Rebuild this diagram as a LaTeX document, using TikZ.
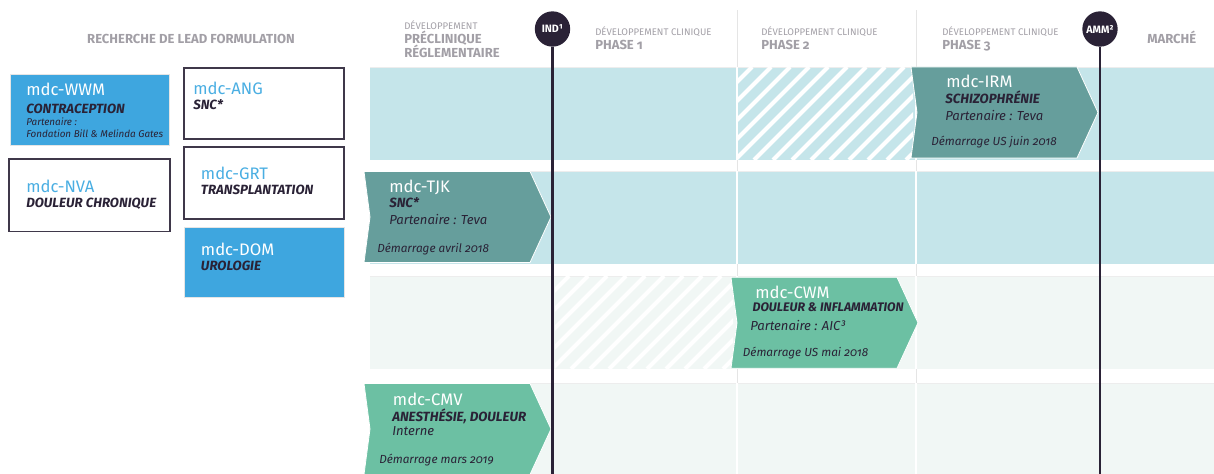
\documentclass[tikz,border=0pt]{standalone}
\usepackage{fontspec}
\setmainfont{Fira Sans}[Numbers=OldStyle]
\definecolor{bandblue}{HTML}{C5E5EA}
\definecolor{bandgreen}{HTML}{F1F7F5}
\definecolor{teal}{HTML}{669E9C}
\definecolor{mint}{HTML}{6CC0A3}
\definecolor{boxblue}{HTML}{3EA6DF}
\definecolor{codeblue}{HTML}{4AAEE2}
\definecolor{dark}{HTML}{2A2236}
\definecolor{headgrey}{HTML}{A29FA6}
\begin{document}
\begin{tikzpicture}[x=.75pt,y=-.75pt,
	code/.style={anchor=base west,inner sep=0pt,white,font=\fontsize{12.5}{12.5}\selectfont},
	cat/.style={anchor=base west,inner sep=0pt,dark,font=\fontsize{10}{10}\selectfont\bfseries\itshape},
	part/.style={anchor=base west,inner sep=0pt,dark,font=\fontsize{9.8}{9.8}\selectfont\itshape},
	start/.style={anchor=base west,inner sep=0pt,dark,font=\fontsize{8.8}{8.8}\selectfont\itshape},
	hsmall/.style={anchor=base west,inner sep=0pt,headgrey,font=\fontsize{7.2}{7.2}\selectfont},
	hbig/.style={anchor=base west,inner sep=0pt,headgrey,font=\fontsize{9.8}{9.8}\selectfont\bfseries},
	milestone/.style={circle,fill=dark,text=white,inner sep=0pt,minimum size=26.5pt,font=\fontsize{8}{8}\selectfont\bfseries}]
	\useasboundingbox (0,0) rectangle (1214,474);
	% bandes
	\foreach \yy/\cc in {67/bandblue,171/bandblue,276/bandgreen,383/bandgreen}
	{
		\fill[\cc] (370,\yy) rectangle ++(844,93);
		\draw[black!7,line width=.5pt] (370,\yy)--++(844,0);
	}
	% hachures
	\begin{scope}
		\clip (738,67) rectangle (913,160);
		\foreach \ii in {0,...,14}
		{
			\draw[white,line width=3pt] (640+\ii*19,160)--++(93,-93);
		}
	\end{scope}
	\begin{scope}
		\clip (555,276) rectangle (733,369);
		\foreach \ii in {0,...,14}
		{
			\draw[white,line width=3pt] (457+\ii*19,369)--++(93,-93);
		}
	\end{scope}
	% colonnes
	\foreach \xx in {737,916}
	{
		\draw[black!10,line width=.6pt] (\xx,10)--(\xx,474);
		\foreach \yy in {67,171,276,383}
		{
			\draw[white,line width=1.4pt] (\xx,\yy)--++(0,93);
		}
	}
	% fleches
	\foreach \xx/\yy/\cc in {911/67/teal,364/171.5/teal,731/277.3/mint,364/383.5/mint}
	{
		\path[fill=\cc,draw=white,line width=.6pt] (\xx,\yy)--++(166,0)--++(21,45.5)--++(-21,45.5)--++(-166,0)--++(6,-45.5)--cycle;
	}
	% jalons
	\node[milestone] (ind) at (552.5,29) {IND¹};
	\node[milestone] (amm) at (1100,29) {AMM²};
	\coordinate (indend) at (552.5,474);
	\coordinate (ammend) at (1100,474);
	\draw[dark,line width=2.2pt] (ind.south)--(indend);
	\draw[dark,line width=2.2pt] (amm.south)--(ammend);
	% en-tetes
	\node[hbig,anchor=base] (lead) at (191,43.3) {RECHERCHE DE LEAD FORMULATION};
	\node[hsmall] (pre) at (404,30) {DÉVELOPPEMENT};
	\node[hbig] (prea) at (404,44) {PRÉCLINIQUE};
	\node[hbig] (preb) at (404,58) {RÉGLEMENTAIRE};
	\foreach \xx/\nn in {595/1,761/2,942/3}
	{
		\node[hsmall] (dev\nn) at (\xx,36) {DÉVELOPPEMENT CLINIQUE};
		\node[hbig] (phase\nn) at (\xx,50) {PHASE \nn};
	}
	\node[hbig] (marche) at (1147,44) {MARCHÉ};
	% recherche
	\draw[fill=boxblue,draw=black!10,line width=.6pt] (10,74) rectangle (169,145);
	\draw[fill=boxblue,draw=black!10,line width=.6pt] (184,227) rectangle (344,297);
	\foreach \xa/\ya/\xb/\yb in {184/68/344/139,9/159/170/231.5,184/147/344/219}
	{
		\draw[dark!90,line width=1.1pt] (\xa,\ya) rectangle (\xb,\yb);
	}
	\node[code] (wwm) at (26,95.7) {mdc-WWM};
	\node[cat] (wwmcat) at (26,113.3) {CONTRACEPTION};
	\node[part,font=\fontsize{7.4}{7.4}\selectfont\itshape] (wwmpart) at (26,126) {Partenaire :};
	\node[part,font=\fontsize{7.4}{7.4}\selectfont\itshape] (wwmfond) at (26,137.7) {Fondation Bill \& Melinda Gates};
	\node[code,codeblue] (ang) at (193,95) {mdc-ANG};
	\node[cat] (angcat) at (193,110) {SNC*};
	\node[code,codeblue] (nva) at (26,192.3) {mdc-NVA};
	\node[cat] (nvacat) at (26,207.7) {DOULEUR CHRONIQUE};
	\node[code,codeblue] (grt) at (200.7,180) {mdc-GRT};
	\node[cat] (grtcat) at (200.7,195) {TRANSPLANTATION};
	\node[code] (dom) at (200.7,255) {mdc-DOM};
	\node[cat] (domcat) at (200.7,270.7) {UROLOGIE};
	% developpement
	\node[code] (irm) at (946,87.3) {mdc-IRM};
	\node[cat] (irmcat) at (945,104) {SCHIZOPHRÉNIE};
	\node[part] (irmpart) at (945,120.7) {Partenaire : Teva};
	\node[start] (irmstart) at (931,146) {Démarrage US juin 2018};
	\node[code] (tjk) at (389,192.3) {mdc-TJK};
	\node[cat] (tjkcat) at (389,207.7) {SNC*};
	\node[part] (tjkpart) at (389,224.3) {Partenaire : Teva};
	\node[start] (tjkstart) at (377,252.3) {Démarrage avril 2018};
	\node[code] (cwm) at (755,298.3) {mdc-CWM};
	\node[cat,font=\fontsize{9.3}{9.3}\selectfont\bfseries\itshape] (cwmcat) at (752.3,311.7) {DOULEUR \& INFLAMMATION};
	\node[part] (cwmpart) at (750,330) {Partenaire : AIC³};
	\node[start] (cwmstart) at (742.7,356.7) {Démarrage US mai 2018};
	\node[code] (cmv) at (392.7,405) {mdc-CMV};
	\node[cat] (cmvcat) at (392,421) {ANESTHÉSIE, DOULEUR};
	\node[part] (cmvpart) at (392,435.7) {Interne};
	\node[start] (cmvstart) at (379,463.3) {Démarrage mars 2019};
\end{tikzpicture}
\end{document}
